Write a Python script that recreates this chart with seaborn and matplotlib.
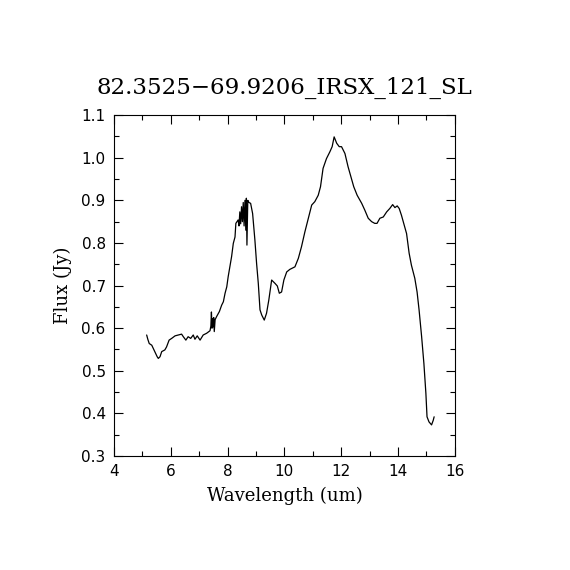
import numpy as np
import pandas as pd
import matplotlib
matplotlib.use("Agg")
import matplotlib.pyplot as plt
from matplotlib.ticker import MultipleLocator
import seaborn as sns

# spectrum (um, Jy)
wavelength = [5.15, 5.19, 5.24, 5.33, 5.38, 5.44, 5.52, 5.56, 5.62, 5.68,
              5.79, 5.85, 5.94, 6.03, 6.15, 6.26, 6.38, 6.44, 6.53, 6.61,
              6.70, 6.79, 6.85, 6.93, 7.03, 7.14, 7.26, 7.38, 7.41, 7.43,
              7.45, 7.47, 7.49, 7.51, 7.53, 7.56, 7.61, 7.71, 7.79, 7.85,
              7.91, 7.97, 8.02, 8.08, 8.14, 8.20, 8.26, 8.29, 8.37, 8.40,
              8.43, 8.46, 8.49, 8.52, 8.55, 8.58, 8.61, 8.64, 8.66, 8.68,
              8.71, 8.75, 8.81, 8.88, 8.96, 9.02, 9.08, 9.14, 9.20, 9.29,
              9.37, 9.45, 9.55, 9.67, 9.75, 9.82, 9.90, 9.98, 10.08, 10.19,
              10.37, 10.49, 10.60, 10.72, 10.84, 10.96, 11.07, 11.19, 11.27, 11.36,
              11.48, 11.60, 11.68, 11.75, 11.84, 11.93, 12.01, 12.13, 12.24, 12.36,
              12.44, 12.56, 12.72, 12.83, 12.95, 13.07, 13.18, 13.26, 13.36, 13.48,
              13.60, 13.71, 13.81, 13.89, 13.97, 14.04, 14.12, 14.20, 14.30, 14.39,
              14.47, 14.59, 14.67, 14.74, 14.83, 14.91, 14.98, 15.02, 15.09, 15.18,
              15.24, 15.27]
flux = [0.584, 0.574, 0.564, 0.560, 0.553, 0.545, 0.533, 0.529, 0.533, 0.545,
        0.549, 0.556, 0.572, 0.576, 0.582, 0.584, 0.586, 0.580, 0.572, 0.580,
        0.576, 0.584, 0.574, 0.582, 0.572, 0.584, 0.588, 0.594, 0.605, 0.638,
        0.600, 0.622, 0.603, 0.625, 0.592, 0.620, 0.627, 0.639, 0.654, 0.662,
        0.682, 0.697, 0.721, 0.744, 0.768, 0.799, 0.814, 0.846, 0.854, 0.840,
        0.873, 0.845, 0.885, 0.850, 0.895, 0.840, 0.900, 0.830, 0.905, 0.795,
        0.900, 0.895, 0.893, 0.869, 0.807, 0.752, 0.705, 0.643, 0.631, 0.619,
        0.635, 0.666, 0.713, 0.705, 0.699, 0.682, 0.685, 0.713, 0.732, 0.738,
        0.744, 0.764, 0.791, 0.826, 0.858, 0.889, 0.897, 0.912, 0.932, 0.975,
        0.998, 1.014, 1.026, 1.049, 1.034, 1.026, 1.026, 1.010, 0.979, 0.951,
        0.932, 0.912, 0.893, 0.877, 0.858, 0.850, 0.846, 0.846, 0.858, 0.861,
        0.873, 0.881, 0.890, 0.883, 0.887, 0.881, 0.865, 0.846, 0.822, 0.776,
        0.748, 0.717, 0.685, 0.643, 0.580, 0.517, 0.447, 0.392, 0.380, 0.373,
        0.384, 0.392]

df = pd.DataFrame({"wavelength": wavelength, "flux": flux})

sns.set_style("ticks")
plt.rcParams["font.family"] = ["DejaVu Serif"]
plt.rcParams["text.color"] = "black"
plt.rcParams["axes.labelcolor"] = "black"
plt.rcParams["xtick.color"] = "black"
plt.rcParams["ytick.color"] = "black"

fig = plt.figure(figsize=(5.7, 5.7), dpi=100)
ax = fig.add_axes([0.2, 0.2, 0.598, 0.598])

sns.lineplot(data=df, x="wavelength", y="flux", sort=False, estimator=None,
             color="black", linewidth=0.9, ax=ax)

ax.set_xlim(4, 16)
ax.set_ylim(0.3, 1.1)
ax.xaxis.set_major_locator(MultipleLocator(2))
ax.xaxis.set_minor_locator(MultipleLocator(1))
ax.yaxis.set_major_locator(MultipleLocator(0.1))
ax.yaxis.set_minor_locator(MultipleLocator(0.05))
ax.set_yticks(np.arange(0.3, 1.101, 0.1))
ax.set_yticklabels([f"{v:.1f}" for v in np.arange(0.3, 1.101, 0.1)])
ax.tick_params(which="both", direction="in", top=True, right=True,
               width=0.8, labelsize=11)
ax.tick_params(which="major", length=6.5, pad=6)
ax.tick_params(which="minor", length=3.5)
for lab in ax.get_xticklabels() + ax.get_yticklabels():
    lab.set_family("DejaVu Sans")
for s in ax.spines.values():
    s.set_linewidth(0.8)
    s.set_color("black")

ax.set_xlabel("Wavelength (um)", fontsize=13, labelpad=5)
ax.set_ylabel("Flux (Jy)", fontsize=13, labelpad=7)
ax.set_title("82.3525\u221269.9206_IRSX_121_SL", fontsize=16.5, pad=15)

fig.savefig("out.png", dpi=100, facecolor="white")
